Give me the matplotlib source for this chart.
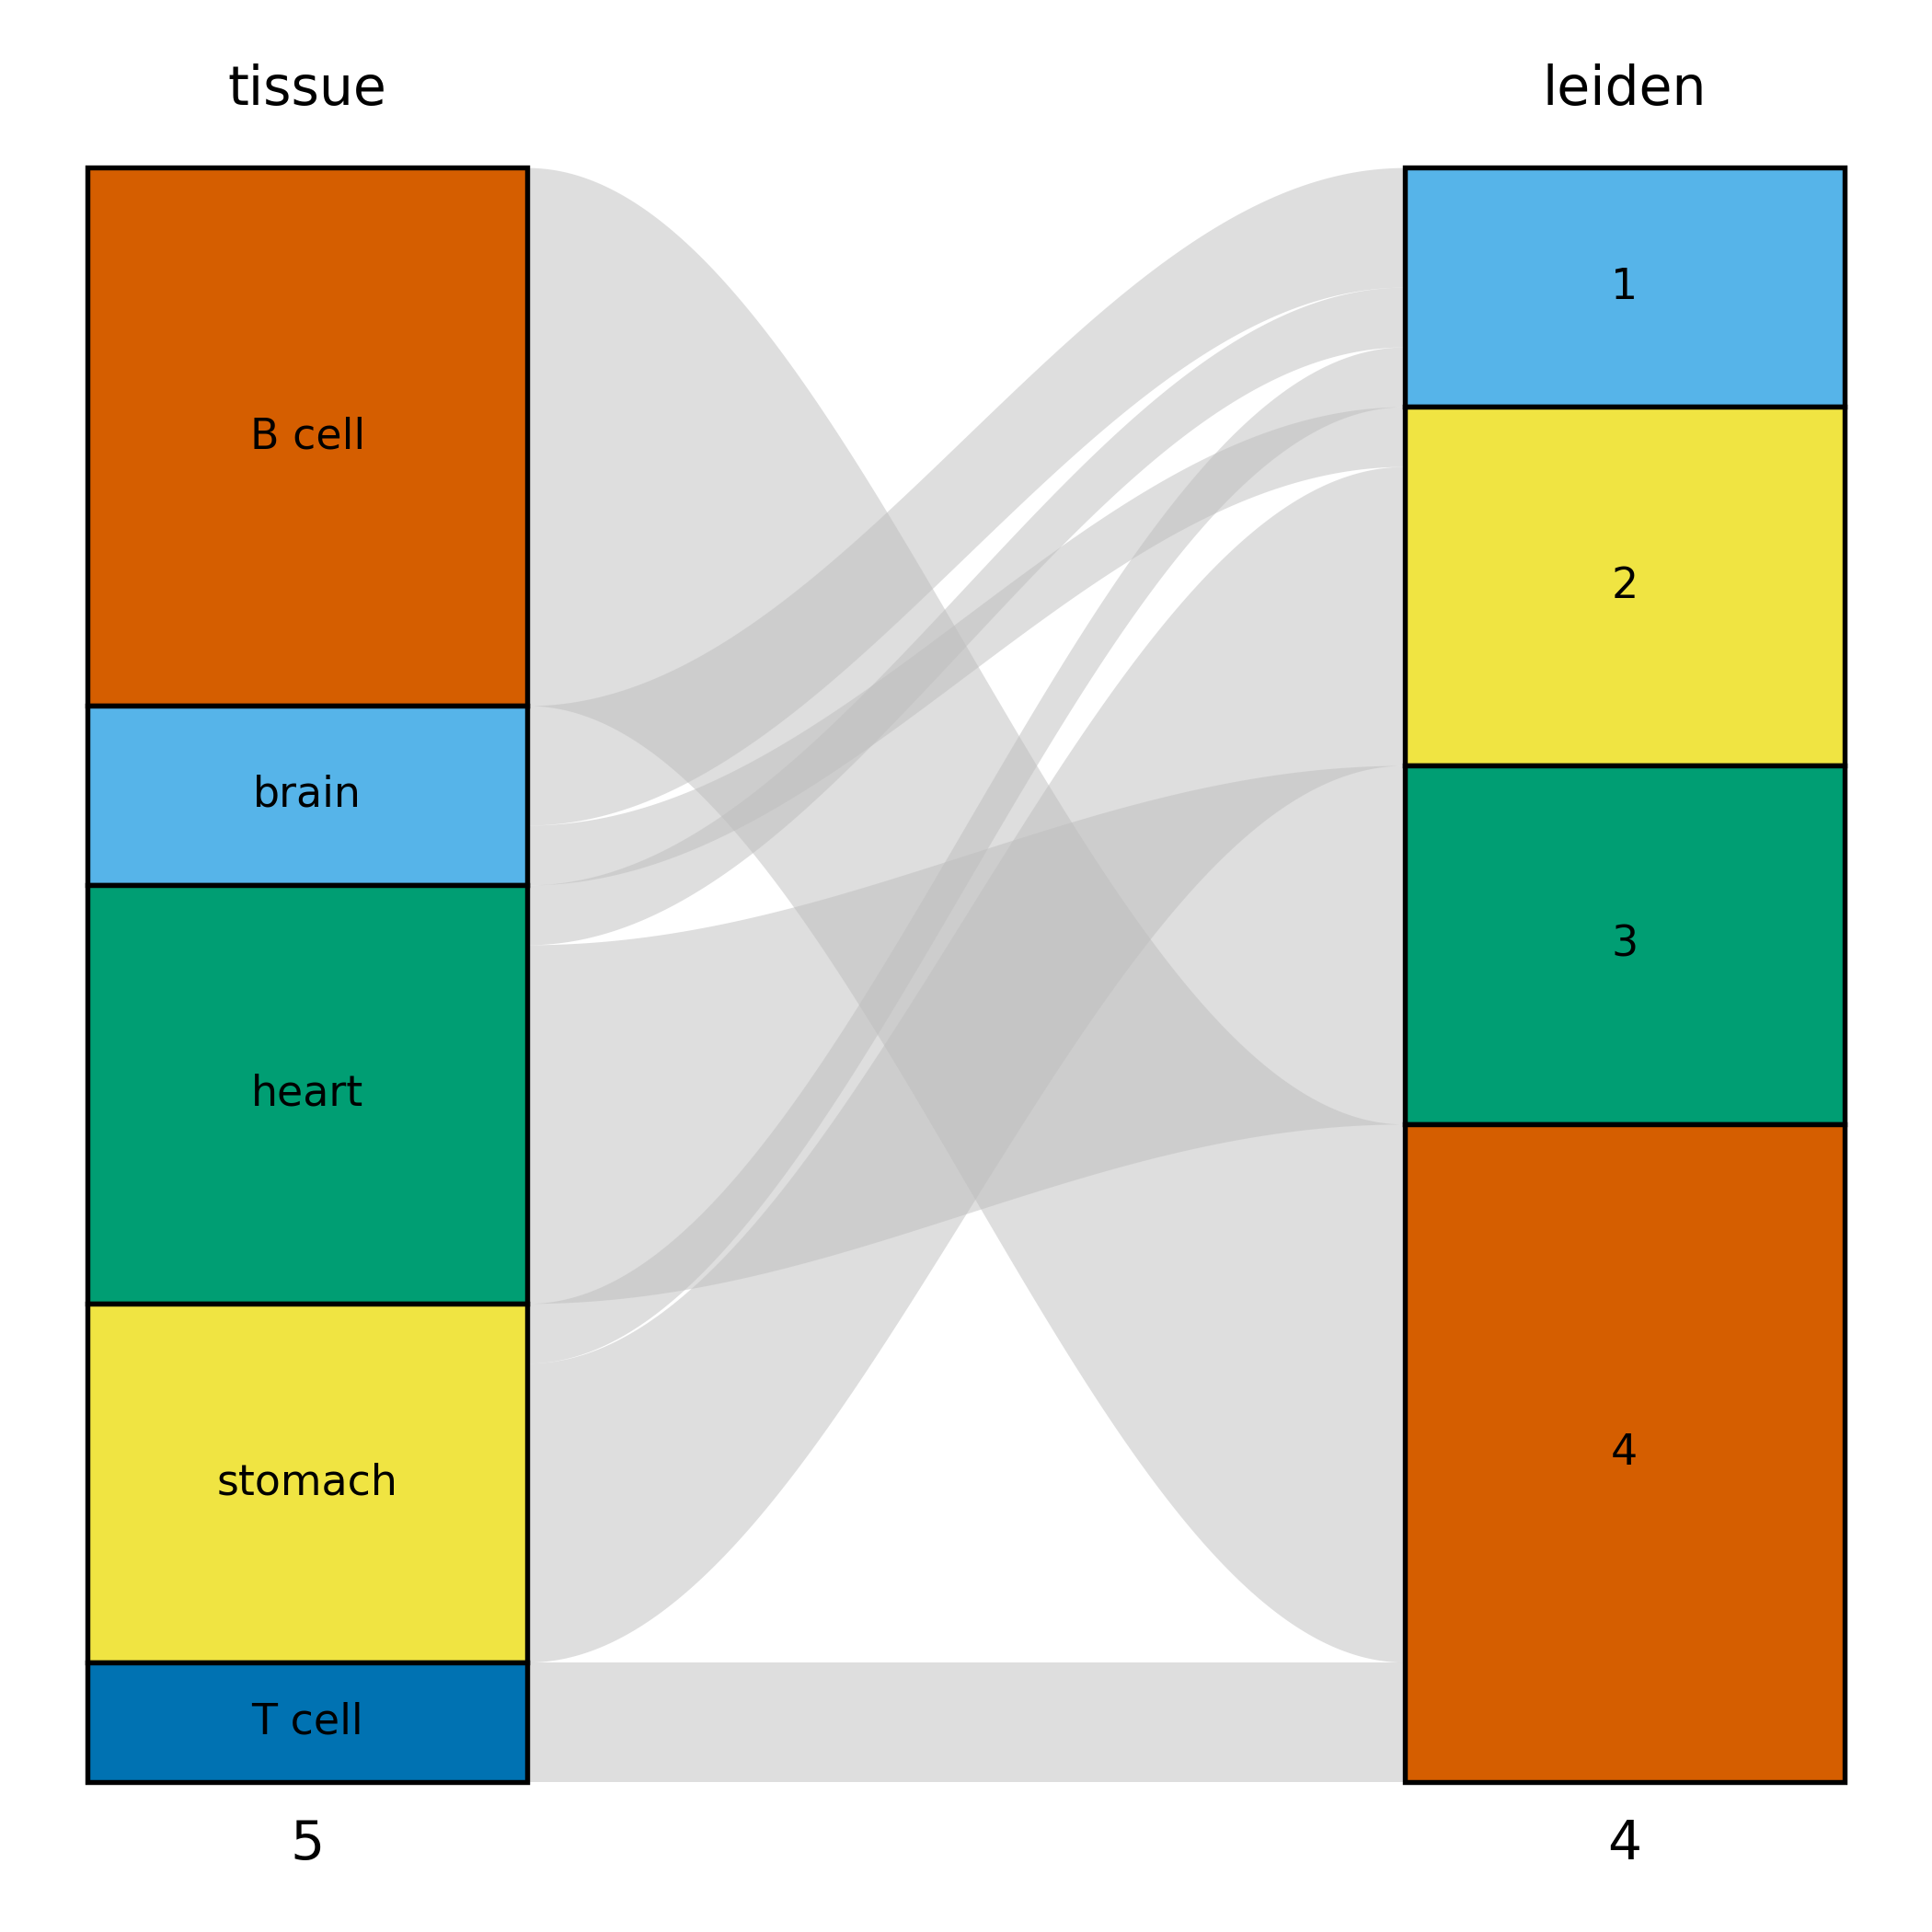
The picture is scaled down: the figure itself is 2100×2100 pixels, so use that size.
import matplotlib.pyplot as plt
import numpy as np

tissues = ["B cell", "brain", "heart", "stomach", "T cell"]
tissue_colors = ["#D55E00", "#56B4E9", "#009E73", "#F0E442", "#0072B2"]
clusters = ["1", "2", "3", "4"]
cluster_colors = ["#56B4E9", "#F0E442", "#009E73", "#D55E00"]

# flows: (tissue, cluster, count)
flow_src = ["B cell", "brain", "brain", "heart", "heart", "stomach", "stomach", "T cell"]
flow_dst = ["4", "1", "2", "1", "3", "1", "2", "4"]
flow_n = [9, 2, 1, 1, 6, 1, 5, 2]

total = sum(flow_n)
top, bottom = 136, 1446
scale = (bottom - top) / total
lx0, lx1 = 71, 428
rx0, rx1 = 1140, 1497

fig = plt.figure(figsize=(7, 7), dpi=300)
ax = fig.add_axes([0, 0, 1, 1])
ax.set_xlim(0, 1568)
ax.set_ylim(1568, 0)
ax.axis("off")

def sizes(names, key):
    return [sum(n for k, n in zip(key, flow_n) if k == nm) for nm in names]

ts = sizes(tissues, flow_src)
cs = sizes(clusters, flow_dst)

# left offsets: within each tissue, order by cluster
lstart = {}
y = top
for t, s in zip(tissues, ts):
    lstart[t] = y
    y += s * scale
rstart = {}
y = top
for c, s in zip(clusters, cs):
    rstart[c] = y
    y += s * scale

lpos = dict(lstart)
rpos = dict(rstart)
flows = list(zip(flow_src, flow_dst, flow_n))
left_y = {}
for t in tissues:
    for f in sorted([f for f in flows if f[0] == t], key=lambda f: clusters.index(f[1])):
        left_y[f] = lpos[t]
        lpos[t] += f[2] * scale
right_y = {}
for c in clusters:
    for f in sorted([f for f in flows if f[1] == c], key=lambda f: tissues.index(f[0])):
        right_y[f] = rpos[c]
        rpos[c] += f[2] * scale

xs = np.linspace(lx1, rx0, 200)
u = (xs - lx1) / (rx0 - lx1)
w = (1 - np.cos(np.pi * u)) / 2
for f in flows:
    y0, y1 = left_y[f], right_y[f]
    h = f[2] * scale
    ytop = y0 + (y1 - y0) * w
    ax.fill_between(xs, ytop, ytop + h, color="#BEBEBE", alpha=0.5, linewidth=0)

def column(names, sz, cols, x0, x1):
    y = top
    for nm, s, c in zip(names, sz, cols):
        h = s * scale
        ax.add_patch(plt.Rectangle((x0, y), x1 - x0, h, facecolor=c, edgecolor="black", linewidth=1.3))
        ax.text((x0 + x1) / 2, y + h / 2, nm, ha="center", va="center", fontsize=11)
        y += h

column(tissues, ts, tissue_colors, lx0, lx1)
column(clusters, cs, cluster_colors, rx0, rx1)

ax.text((lx0 + lx1) / 2, 73, "tissue", ha="center", va="center", fontsize=14)
ax.text((rx0 + rx1) / 2, 73, "leiden", ha="center", va="center", fontsize=14)
ax.text((lx0 + lx1) / 2, 1497, str(len(tissues)), ha="center", va="center", fontsize=14)
ax.text((rx0 + rx1) / 2, 1497, str(len(clusters)), ha="center", va="center", fontsize=14)

fig.savefig("out.png", dpi=300)
